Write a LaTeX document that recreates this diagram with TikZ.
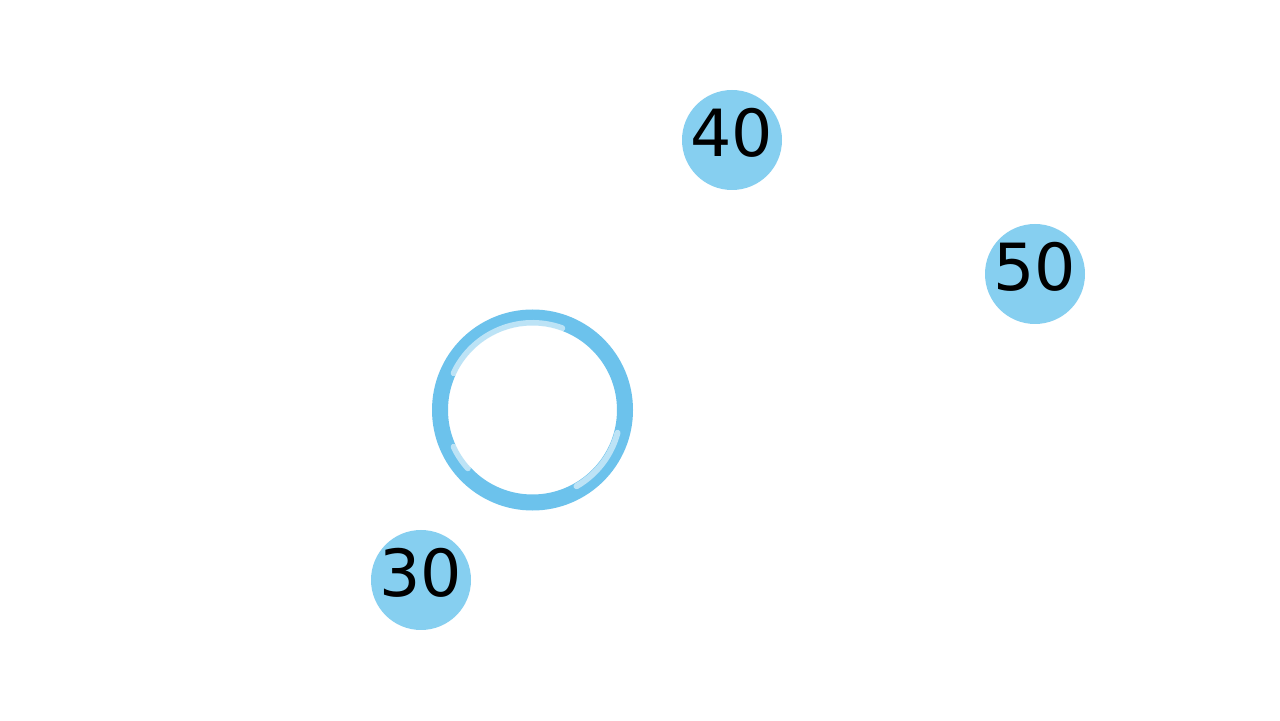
\documentclass[tikz,border=0pt]{standalone}
\usepackage{fontspec}
\setmainfont{DejaVu Sans}
\usepackage{tikz}
\usepackage{xcolor}
\usetikzlibrary{positioning}

\definecolor{discblue}{HTML}{86CFF0}
\definecolor{ringblue}{HTML}{6CC2EC}

\begin{document}
\begin{tikzpicture}[
    disc/.style={circle, fill=discblue, minimum size=2cm, inner sep=0pt,
                 text height=0.95cm, text depth=0.28cm,
                 font=\fontsize{37}{37}\selectfont},
    ring/.style={circle, draw=ringblue, line width=0.32cm, minimum size=3.7cm, inner sep=0pt},
    streak/.style={white, opacity=0.55, line width=0.12cm, line cap=round}
  ]
            \useasboundingbox[fill=white] (0, 0) rectangle (25.6, 14.4);
            \node [disc] (D40) at (14.64, 11.6) {\makebox[0pt]{40}};
            \node [disc] (D50) at (20.7, 8.92) {\makebox[0pt]{50}};
            \node [disc] (D30) at (8.42, 2.8) {\makebox[0pt]{30}};
            \node [ring] (R) at (10.65, 6.2) {};
            % brush highlights on the ring
            \draw[streak] (R.center) ++(155:1.74) arc (155:70:1.74);
            \draw[streak] (R.center) ++(-15:1.76) arc (-15:-60:1.76);
            \draw[streak] (R.center) ++(205:1.74) arc (205:222:1.74);
        \end{tikzpicture}
\end{document}
